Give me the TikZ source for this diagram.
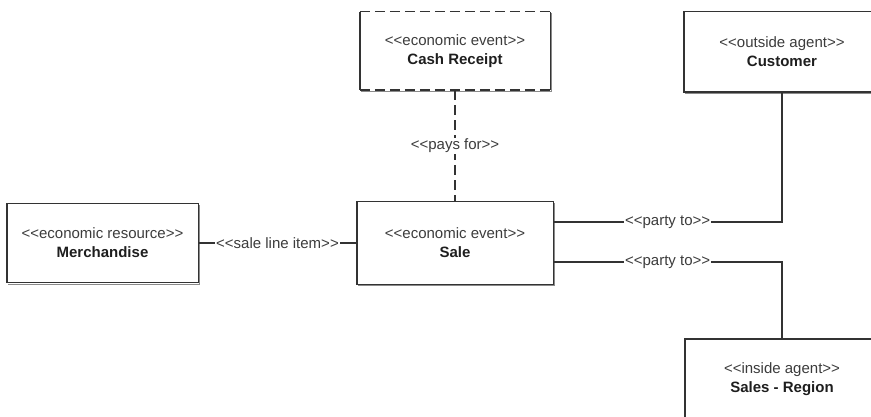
\documentclass[tikz,border=0pt]{standalone}
\usepackage{fontspec}
\setmainfont{Liberation Sans}
\definecolor{linec}{HTML}{333333}
\definecolor{shad}{HTML}{8A8A8A}
\definecolor{txt}{HTML}{3C3C3C}
\definecolor{boldtxt}{HTML}{1E1E1E}
\newcommand\LT{<\kern0pt<}
\newcommand\GT{>\kern0pt>}
\newcommand\bname[1]{\textcolor{boldtxt}{\textbf{#1}}}
\begin{document}
\begin{tikzpicture}[x=1pt,y=-1pt,
  lab/.style={font=\fontsize{15}{19}\selectfont, text=txt, align=center, inner sep=0pt},
  ln/.style={draw=linec, line width=1.4pt},
  dashln/.style={draw=linec, line width=1.4pt, dash pattern=on 10pt off 5pt},
  shadowln/.style={draw=shad, line width=1.3pt},
  conlab/.style={font=\fontsize{15}{18}\selectfont, text=txt, fill=white, inner sep=1pt}]
\useasboundingbox (0,0) rectangle (871,417);
\clip (0,0) rectangle (871,417);

% boxes (text)
\node[lab, minimum width=190pt, minimum height=78pt] (cash) at (455,51) {\LT economic event\GT\\\bname{Cash Receipt}};
\node[lab, minimum width=196pt, minimum height=80pt] (cust) at (782,52) {\LT outside agent\GT\\\bname{Customer}};
\node[lab, minimum width=191pt, minimum height=79pt] (merch) at (102.5,243) {\LT economic resource\GT\\\bname{Merchandise}};
\node[lab, minimum width=196pt, minimum height=82pt] (sale) at (455,243) {\LT economic event\GT\\\bname{Sale}};
\node[lab, minimum width=194pt, minimum height=80pt] (region) at (782,379) {\LT inside agent\GT\\\bname{Sales - Region}};

% shadows
\draw[shadowln] ([shift={(1.5,1.5)}]cash.north east) -- ([shift={(1.5,1.5)}]cash.south east) -- ([shift={(1.5,1.5)}]cash.south west);
\draw[shadowln] ([shift={(1.5,1.5)}]cust.south east) -- ([shift={(1.5,1.5)}]cust.south west);
\draw[shadowln] ([shift={(1.5,1.5)}]merch.north east) -- ([shift={(1.5,1.5)}]merch.south east) -- ([shift={(1.5,1.5)}]merch.south west);
\draw[shadowln] ([shift={(1.5,1.5)}]sale.north east) -- ([shift={(1.5,1.5)}]sale.south east) -- ([shift={(1.5,1.5)}]sale.south west);

% borders
\draw[ln] (cash.north west) -- (cash.south west);
\draw[ln] (cash.north east) -- (cash.south east);
\draw[dashln] (cash.north west) -- (cash.north east);
\draw[dashln] (cash.south west) -- (cash.south east);
\draw[ln] (cust.north east) -- (cust.north west) -- (cust.south west) -- (cust.south east);
\draw[ln] (merch.north west) rectangle (merch.south east);
\draw[ln] (sale.north west) rectangle (sale.south east);
\draw[ln] (region.south west) -- (region.north west) -- (region.north east);

% connectors
\draw[ln] (merch.east) -- node[conlab] {\LT sale line item\GT} (sale.west);
\draw[dashln] (cash.south) -- node[conlab] {\LT pays for\GT} (sale.north);
\draw[ln] (sale.east |- 0,222) -- node[conlab] {\LT party to\GT} (cust.south |- 0,222) -- (cust.south);
\draw[ln] (sale.east |- 0,262) -- node[conlab] {\LT party to\GT} (region.north |- 0,262) -- (region.north);
\end{tikzpicture}
\end{document}
